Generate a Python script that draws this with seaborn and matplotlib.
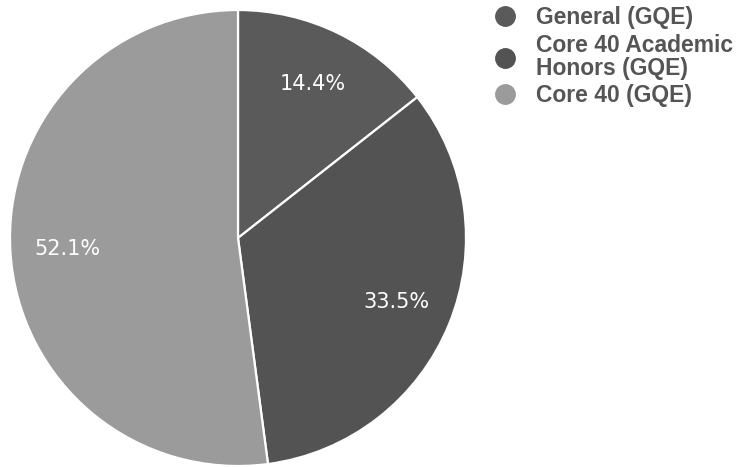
import textwrap
import matplotlib
matplotlib.use("Agg")
import matplotlib.pyplot as plt
from matplotlib.lines import Line2D
import seaborn as sns

# Diploma type shares (GQE)
categories = ["General (GQE)", "Core 40 Academic Honors (GQE)", "Core 40 (GQE)"]
shares = [14.4, 33.5, 52.1]
colors = ["#5a5a5a", "#535353", "#9b9b9b"]

sns.set_theme(style="white")
plt.rcParams["font.family"] = ["Liberation Sans", "DejaVu Sans"]

W, H = 746, 467
fig = plt.figure(figsize=(W / 100, H / 100), dpi=100)
fig.patch.set_facecolor("white")

# pie centered at (238, 238) px with radius 228 px
cx, cy, r = 238, 238, 228
ax = fig.add_axes([(cx - r) / W, (H - cy - r) / H, 2 * r / W, 2 * r / H])

wedges, _, autotexts = ax.pie(
    shares,
    colors=colors,
    startangle=90,
    counterclock=False,
    radius=1,
    autopct=lambda p: f"{p:.1f}%",
    pctdistance=0.75,
    wedgeprops=dict(edgecolor="white", linewidth=1.6),
    textprops=dict(color="white", fontsize=15, family="DejaVu Sans"),
)
ax.set_xlim(-1, 1)
ax.set_ylim(-1, 1)
ax.set_aspect("equal")
ax.axis("off")

handles = [
    Line2D([], [], marker="o", linestyle="", markersize=14,
           markerfacecolor=c, markeredgecolor=c)
    for c in colors
]
labels = [textwrap.fill(c, 16) for c in categories]
leg = fig.legend(
    handles, labels,
    loc="upper left",
    bbox_to_anchor=(494 / W, 1 - 6 / H),
    frameon=False,
    borderpad=0.0,
    borderaxespad=0.0,
    handletextpad=0.85,
    handlelength=1.0,
    labelspacing=0.2,
    prop=dict(family="Liberation Sans", weight="bold", size=16.5),
    labelcolor="#555555",
)
for t in leg.get_texts():
    t.set_linespacing(1.0)

fig.savefig("out.png", dpi=100, facecolor="white")
